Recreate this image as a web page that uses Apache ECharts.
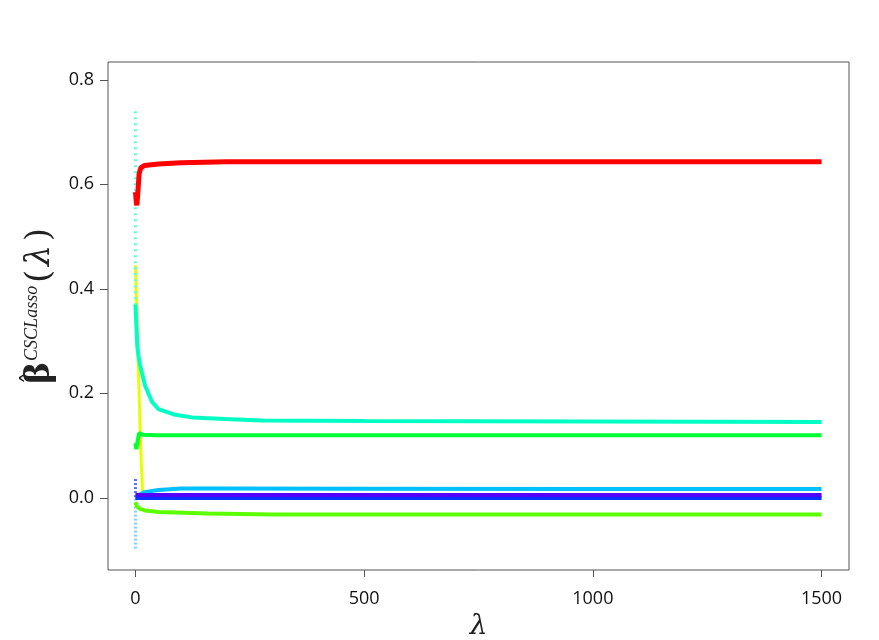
<!DOCTYPE html>
<html>
<head>
<meta charset="utf-8">
<script src="https://cdn.jsdelivr.net/npm/echarts@6/dist/echarts.min.js"></script>
<style>html,body{margin:0;padding:0;background:#fff}#c{width:879px;height:640px}</style>
</head>
<body>
<div id="c"></div>
<script>
// lambda grids and coefficient paths
const xTicks = [0, 500, 1000, 1500];
const yTicks = [0.0, 0.2, 0.4, 0.6, 0.8];

const redLam  = [0, 2, 3, 5, 8, 12, 20, 50, 100, 200, 500, 1000, 1500];
const redVal  = [0.585, 0.565, 0.56, 0.58, 0.62, 0.632, 0.636, 0.639, 0.641, 0.643, 0.643, 0.643, 0.643];

const tealLam = [0, 2, 4, 7, 10, 14, 21, 36, 50, 87, 123, 196, 276, 500, 1000, 1500];
const tealVal = [0.37, 0.33, 0.29, 0.27, 0.255, 0.24, 0.215, 0.184, 0.170, 0.159, 0.154, 0.151, 0.148, 0.147, 0.146, 0.145];

const cyanDotLam = [0, 0];
const cyanDotVal = [0.74, 0.36];

const yellowLam = [0, 3, 7, 10, 13, 16, 20, 100, 500, 1000, 1500];
const yellowVal = [0.445, 0.36, 0.23, 0.14, 0.06, 0.005, 0.0, 0.0, 0.0, 0.0, 0.0];

const greenLam = [0, 2, 5, 8, 15, 50, 200, 500, 1000, 1500];
const greenVal = [0.105, 0.093, 0.11, 0.124, 0.121, 0.12, 0.12, 0.12, 0.12, 0.12];

const lblueLam = [0, 2, 5, 10, 20, 50, 100, 200, 500, 1000, 1500];
const lblueVal = [0.0, 0.001, 0.003, 0.007, 0.011, 0.015, 0.018, 0.018, 0.0175, 0.0172, 0.017];
const lblueDotLam = [0, 0];
const lblueDotVal = [-0.097, 0.0];

const blueLam = [0, 1500];
const blueVal = [0.0, 0.0];
const blueDotLam = [0, 0];
const blueDotVal = [0.036, 0.0];

const purpleLam = [0, 1500];
const purpleVal = [0.0055, 0.0055];

const limeLam = [0, 3, 10, 21, 50, 87, 159, 300, 500, 1000, 1500];
const limeVal = [-0.008, -0.016, -0.021, -0.024, -0.027, -0.028, -0.030, -0.032, -0.032, -0.032, -0.032];

function pts(l, v) { return l.map((x, i) => [x, v[i]]); }
function line(name, l, v, color, width, type) {
  return {
    name: name, type: 'line', data: pts(l, v), showSymbol: false, symbol: 'none',
    smooth: false, animation: false,
    lineStyle: { color: color, width: width, type: type || 'solid' }
  };
}

const chart = echarts.init(document.getElementById('c'), null, { renderer: 'canvas' });
chart.setOption({
  animation: false,
  backgroundColor: '#fff',
  grid: { left: 108, right: 30, top: 62, bottom: 70, containLabel: false, outerBoundsMode: 'none',
    show: true, borderColor: '#555', borderWidth: 1, backgroundColor: 'transparent' },
  xAxis: {
    type: 'value', min: -60, max: 1560,
    axisLine: { show: false, onZero: false },
    splitLine: { show: false },
    axisTick: { show: true, inside: false, length: 7, customValues: xTicks, lineStyle: { color: '#555' } },
    axisLabel: { customValues: xTicks, margin: 20, color: '#111', fontSize: 18, fontFamily: 'Open Sans',
      formatter: v => String(v) },
    name: 'λ', nameLocation: 'middle', nameGap: 36,
    nameTextStyle: { fontSize: 28, fontStyle: 'italic', fontFamily: 'DejaVu Serif', color: '#222' }
  },
  yAxis: {
    type: 'value', min: -0.138, max: 0.834,
    axisLine: { show: false, onZero: false },
    splitLine: { show: false },
    axisTick: { show: true, inside: false, length: 8, customValues: yTicks, lineStyle: { color: '#555' } },
    axisLabel: { customValues: yTicks, margin: 14, color: '#111', fontSize: 18, fontFamily: 'Open Sans',
      formatter: v => v.toFixed(1) }
  },
  graphic: [{
    type: 'text', x: 40, y: 306, rotation: Math.PI / 2,
    style: {
      text: '{b|β}{s|CSCLasso}{o|(}{l|λ}{c|)}',
      align: 'center', verticalAlign: 'middle',
      fill: '#222',
      rich: {
        b: { fontSize: 33, fontFamily: 'DejaVu Serif', fontWeight: 'bold', fill: '#222', verticalAlign: 'bottom', padding: [0, 1, 0, 0] },
        s: { fontSize: 18, fontFamily: 'Liberation Serif', fontStyle: 'italic', fill: '#222', verticalAlign: 'top', padding: [0, 3, 0, 0] },
        o: { fontSize: 33, fontFamily: 'DejaVu Serif', fill: '#222', verticalAlign: 'bottom', padding: [0, 4, 0, 0] },
        l: { fontSize: 33, fontFamily: 'DejaVu Serif', fontStyle: 'italic', fill: '#222', verticalAlign: 'bottom' },
        c: { fontSize: 33, fontFamily: 'DejaVu Serif', fill: '#222', verticalAlign: 'bottom', padding: [0, 0, 0, 4] }
      }
    }
  }, {
    type: 'text', x: 33, y: 378, rotation: Math.PI / 2,
    style: { text: 'ˆ', align: 'center', verticalAlign: 'middle', fontSize: 26, fontFamily: 'DejaVu Serif', fill: '#222' }
  }],
  series: [
    line('yellow', yellowLam, yellowVal, '#E6FF00', 3),
    line('cyanDot', cyanDotLam, cyanDotVal, '#5CFFD6', 3, [2, 4]),
    line('lblueDot', lblueDotLam, lblueDotVal, '#7FD4FF', 3, [2, 2]),
    line('blueDot', blueDotLam, blueDotVal, '#5A6BFF', 3, [2, 2]),
    line('teal', tealLam, tealVal, '#00FFC4', 4),
    line('green', greenLam, greenVal, '#00FF33', 4),
    line('lblue', lblueLam, lblueVal, '#00BFFF', 4),
    line('lime', limeLam, limeVal, '#5CFF00', 4),
    line('blue', blueLam, blueVal, '#0033FF', 4),
    line('purple', purpleLam, purpleVal, '#5500FF', 4),
    line('red', redLam, redVal, '#FF0000', 5)
  ]
});
</script>
</body>
</html>
